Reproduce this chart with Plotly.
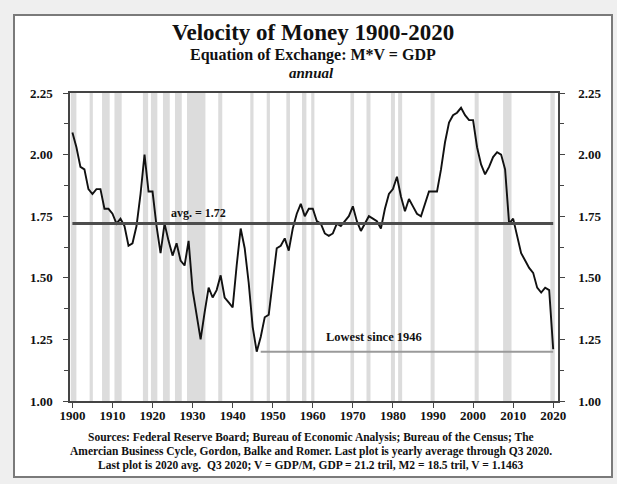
import plotly.graph_objects as go

# ---------------- data ----------------
years = list(range(1900, 2021))
velocity = [
    2.09, 2.03, 1.95, 1.94, 1.86, 1.84, 1.86, 1.86, 1.78, 1.78,   # 1900s
    1.76, 1.72, 1.74, 1.71, 1.63, 1.64, 1.71, 1.84, 2.00, 1.85,   # 1910s
    1.85, 1.71, 1.60, 1.72, 1.65, 1.59, 1.64, 1.57, 1.55, 1.65,   # 1920s
    1.45, 1.35, 1.25, 1.36, 1.46, 1.42, 1.45, 1.51, 1.42, 1.40,   # 1930s
    1.38, 1.55, 1.70, 1.62, 1.48, 1.30, 1.20, 1.26, 1.34, 1.35,   # 1940s
    1.48, 1.62, 1.63, 1.66, 1.61, 1.70, 1.76, 1.80, 1.75, 1.78,   # 1950s
    1.78, 1.73, 1.72, 1.68, 1.67, 1.68, 1.72, 1.71, 1.73, 1.75,   # 1960s
    1.79, 1.73, 1.69, 1.72, 1.75, 1.74, 1.73, 1.70, 1.78, 1.84,   # 1970s
    1.86, 1.91, 1.83, 1.77, 1.82, 1.79, 1.76, 1.75, 1.80, 1.85,   # 1980s
    1.85, 1.85, 1.94, 2.05, 2.13, 2.16, 2.17, 2.19, 2.16, 2.14,   # 1990s
    2.14, 2.03, 1.96, 1.92, 1.95, 1.99, 2.01, 2.00, 1.94, 1.72,   # 2000s
    1.74, 1.67, 1.60, 1.57, 1.54, 1.52, 1.46, 1.44, 1.46, 1.45,   # 2010s
    1.21,                                                          # 2020
]
average = 1.72
lowest_level = 1.20
lowest_from = 1947

recession_start = [1899.6, 1904.3, 1907.4, 1910.5, 1917.6, 1919.6, 1922.6, 1925.6,
                   1928.6, 1936.4, 1944.4, 1948.5, 1953.4, 1957.3, 1959.6, 1969.4,
                   1973.4, 1979.5, 1981.3, 1989.4, 2000.4, 2007.5, 2019.3]
recession_end = [1901.0, 1905.1, 1909.3, 1912.3, 1918.9, 1921.2, 1924.3, 1927.3,
                 1933.2, 1937.4, 1945.2, 1949.3, 1954.3, 1958.4, 1960.4, 1970.3,
                 1974.4, 1980.5, 1982.3, 1990.4, 2001.4, 2009.6, 2020.4]

x_ticks = list(range(1900, 2021, 10))
y_ticks = [1.00, 1.25, 1.50, 1.75, 2.00, 2.25]
y_tick_labels = ["1.00", "1.25", "1.50", "1.75", "2.00", "2.25"]

title = "Velocity of Money 1900-2020"
subtitle = "Equation of Exchange: M*V = GDP"
subtitle2 = "annual"
source_lines = [
    "Sources: Federal Reserve Board; Bureau of Economic Analysis; Bureau of the Census; The",
    "Amercian Business Cycle, Gordon, Balke and Romer. Last plot is yearly average through Q3 2020.",
    "Last plot is 2020 avg.  Q3 2020; V = GDP/M, GDP = 21.2 tril, M2 = 18.5 tril, V = 1.1463",
]

# ---------------- figure ----------------
FONT = "Liberation Serif"
W, H = 617, 484
L, R, T, B = 70, 59, 93, 83
pw, ph = W - L - R, H - T - B

def px(x):
    return (x - L) / pw

def py(y):
    return (H - B - y) / ph

fig = go.Figure()

fig.add_trace(go.Scatter(
    x=years, y=velocity, mode="lines",
    line=dict(color="#111111", width=1.9),
    showlegend=False, hoverinfo="x+y",
))
fig.add_trace(go.Scatter(
    x=[years[0], years[-1]], y=[average, average], mode="lines",
    line=dict(color="#4d4d4d", width=3),
    showlegend=False, hoverinfo="skip",
))
fig.add_trace(go.Scatter(
    x=[lowest_from, years[-1]], y=[lowest_level, lowest_level], mode="lines",
    line=dict(color="#9a9a9a", width=2),
    showlegend=False, hoverinfo="skip",
))
# invisible trace to activate right axis
fig.add_trace(go.Scatter(
    x=[years[0]], y=[average], yaxis="y2", mode="markers",
    marker=dict(opacity=0), showlegend=False, hoverinfo="skip",
))

shapes = [
    dict(type="rect", xref="paper", yref="paper",
         x0=px(14), x1=px(612), y0=py(477), y1=py(15),
         fillcolor="white", line=dict(color="#7a7a7a", width=2), layer="below"),
]
for s, e in zip(recession_start, recession_end):
    shapes.append(dict(type="rect", xref="x", yref="paper", x0=s, x1=e, y0=0, y1=1,
                       fillcolor="#dcdcdc", line=dict(width=0), layer="below"))

def note(text, x, y, size, xref="paper", yref="paper"):
    return dict(text=text, x=x, y=y, xref=xref, yref=yref, showarrow=False,
                xanchor="center", yanchor="middle",
                font=dict(family=FONT, size=size, color="#111"))

annotations = [
    note("<b>" + title + "</b>", px(313), py(32), 23),
    note("<b>" + subtitle + "</b>", px(313), py(55), 16),
    note("<b><i>" + subtitle2 + "</i></b>", px(311), py(73), 15),
    note("<b>avg. = 1.72</b>", 1931.5, 1.765, 12, "x", "y"),
    note("<b>Lowest since 1946</b>", 1975.2, 1.26, 12.5, "x", "y"),
]
for i, line in enumerate(source_lines):
    annotations.append(note("<b>" + line + "</b>", px(311), py(437 + 14 * i), 11.5))

axis_font = dict(family=FONT, size=13, color="#111", weight="bold")

fig.update_layout(
    width=W, height=H,
    margin=dict(l=L, r=R, t=T, b=B, pad=0),
    paper_bgcolor="#efefef",
    plot_bgcolor="rgba(0,0,0,0)",
    shapes=shapes,
    annotations=annotations,
    xaxis=dict(
        range=[1899.4, 2021.2], tickvals=x_ticks, ticktext=[str(v) for v in x_ticks],
        showgrid=False, zeroline=False, showline=True, linecolor="#444", linewidth=1.5,
        mirror=True, ticks="outside", ticklen=5, tickcolor="#444", tickfont=axis_font,
        ticklabelstandoff=-3,
    ),
    yaxis=dict(
        range=[1.0, 2.25], tickvals=y_ticks, ticktext=y_tick_labels,
        showgrid=False, zeroline=False, showline=True, linecolor="#444", linewidth=1.5,
        ticks="outside", ticklen=5, tickcolor="#444", tickfont=axis_font,
        ticklabelstandoff=8,
        minor=dict(dtick=0.125, ticks="outside", ticklen=4, tickcolor="#444"),
    ),
    yaxis2=dict(
        range=[1.0, 2.25], tickvals=y_ticks, ticktext=y_tick_labels,
        overlaying="y", side="right",
        showgrid=False, zeroline=False, showline=True, linecolor="#444", linewidth=1.5,
        ticks="outside", ticklen=5, tickcolor="#444", tickfont=axis_font,
        ticklabelstandoff=11,
        minor=dict(dtick=0.125, ticks="outside", ticklen=4, tickcolor="#444"),
    ),
)

fig.write_html("out.html", config={"displayModeBar": False},
               post_script="document.body.style.margin='0';")
